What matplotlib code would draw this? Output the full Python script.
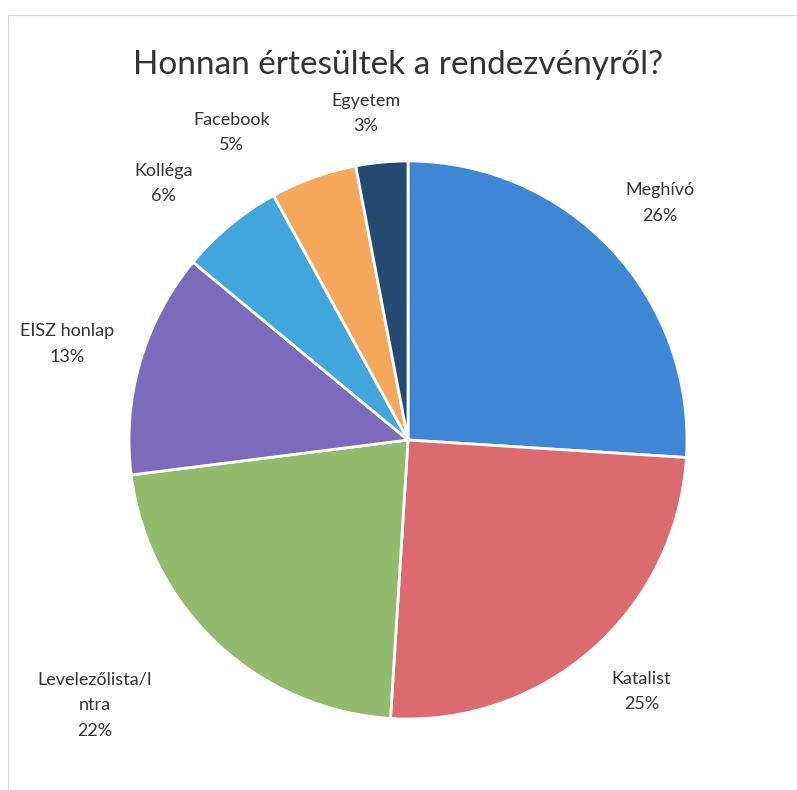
import numpy as np
import matplotlib
matplotlib.use("Agg")
import matplotlib.pyplot as plt
from matplotlib.patches import Rectangle

plt.rcParams["font.family"] = ["Lato", "DejaVu Sans"]

categories = ["Meghívó", "Katalist", "Levelezőlista/I\nntra", "EISZ honlap",
              "Kolléga", "Facebook", "Egyetem"]
shares = [26, 25, 22, 13, 6, 5, 3]
colors = ["#3f86d5", "#dc6b70", "#93bb6e", "#7c6bbb", "#41a6dc", "#f5a75c", "#254a72"]

# label placement: radial distance and angle nudge (deg)
label_dist = [1.24, 1.23, 1.47, 1.27, 1.27, 1.27, 1.18]
label_nudge = [0, 1.5, -6.5, 0.5, 4, 10, 2]

fig = plt.figure(figsize=(7.97, 7.90), dpi=100)
fig.patches.append(Rectangle((8 / 797, 0), 1, 1 - 15 / 790, transform=fig.transFigure,
                             fill=False, edgecolor="#d8d8d8", linewidth=0.8))

cx, cy, r = 408, 440, 279
ax = fig.add_axes([(cx - r) / 797, (790 - cy - r) / 790, 2 * r / 797, 2 * r / 790])
wedges, _ = ax.pie(shares, colors=colors, startangle=90, counterclock=False,
                   wedgeprops=dict(edgecolor="white", linewidth=2))
ax.set_xlim(-1, 1)
ax.set_ylim(-1, 1)
ax.set_aspect("equal")
ax.axis("off")

for w, name, val, d, nd in zip(wedges, categories, shares, label_dist, label_nudge):
    ang = np.deg2rad((w.theta1 + w.theta2) / 2 + nd)
    ax.text(d * np.cos(ang), d * np.sin(ang), f"{name}\n{val}%", ha="center", va="center",
            fontsize=13, color="#333333", linespacing=1.75, clip_on=False)

fig.text(0.5, 1 - 65 / 790, "Honnan értesültek a rendezvényről?", ha="center", va="center",
         fontsize=24, color="#333333")

fig.savefig("out.png", dpi=100)
